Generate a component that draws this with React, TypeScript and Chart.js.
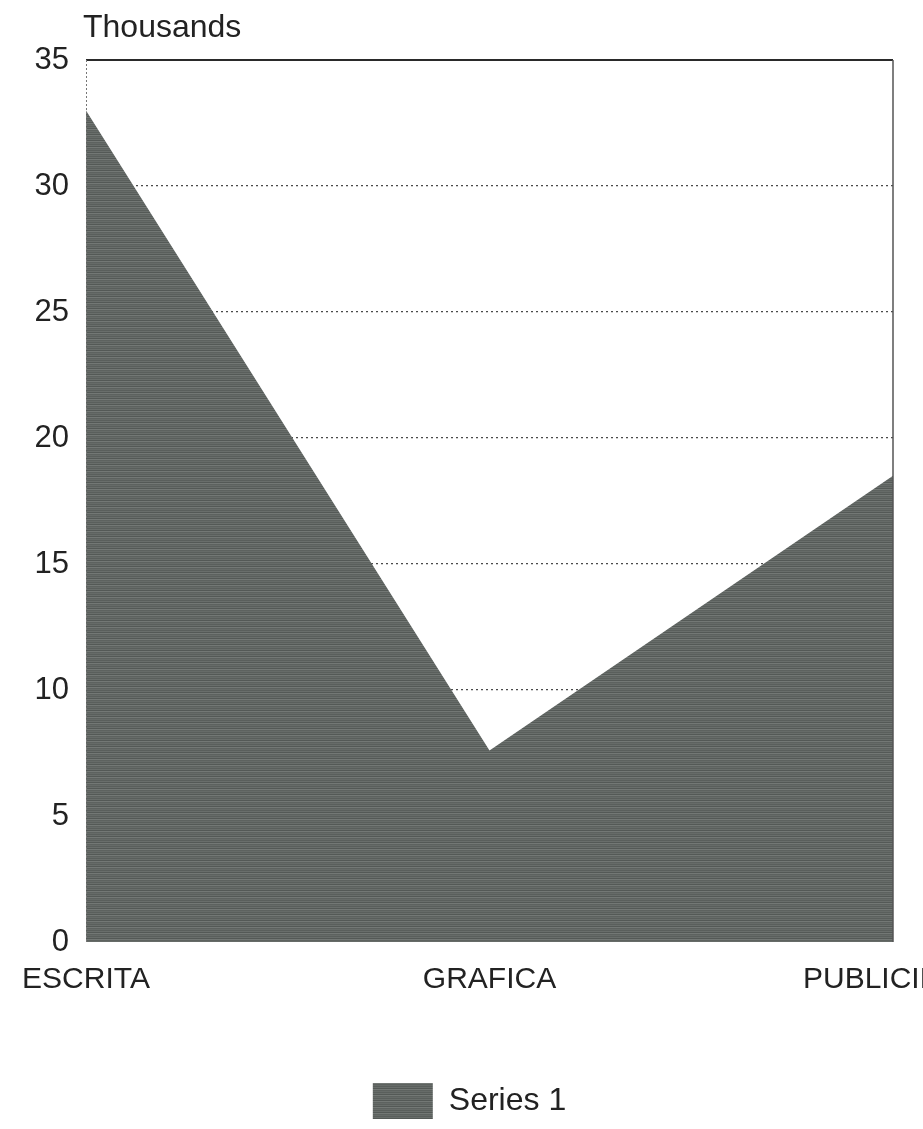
import React, { useEffect, useRef } from "react";
import { Chart, registerables } from "chart.js";

Chart.register(...registerables);

const categories = ["ESCRITA", "GRAFICA", "PUBLICIDAD"];
const series1 = [33.0, 7.6, 18.5];
const yTickValues = [0, 5, 10, 15, 20, 25, 30, 35];
const seriesName = "Series 1";
const unitLabel = "Thousands";

const FONT = "'Liberation Sans', Arial, sans-serif";
const TEXT = "#222222";

function makePattern(): CanvasPattern | string {
  const c = document.createElement("canvas");
  c.width = 8;
  c.height = 6;
  const g = c.getContext("2d");
  if (!g) return "#606562";
  const rows = ["#5a5f5c", "#696e6b", "#545956", "#737875", "#5d625f", "#666b68"];
  rows.forEach((col, i) => {
    g.fillStyle = col;
    g.fillRect(0, i, 8, 1);
  });
  return g.createPattern(c, "repeat") || "#606562";
}

const framePlugin = {
  id: "frame",
  afterLayout(chart: any) {
    const lg = chart.legend;
    if (lg) {
      lg.left = 16;
      lg.right = 923;
    }
  },
  afterDatasetsDraw(chart: any) {
    const { ctx, chartArea } = chart;
    const { left, right, top, bottom } = chartArea;
    ctx.save();
    ctx.strokeStyle = "#2a2a2a";
    ctx.lineWidth = 2;
    ctx.beginPath();
    ctx.moveTo(left, top);
    ctx.lineTo(right, top);
    ctx.stroke();
    ctx.strokeStyle = "#555";
    ctx.lineWidth = 1.5;
    ctx.beginPath();
    ctx.moveTo(right, top);
    ctx.lineTo(right, bottom);
    ctx.stroke();
    ctx.setLineDash([2, 2]);
    ctx.lineWidth = 1;
    ctx.strokeStyle = "#777";
    ctx.beginPath();
    ctx.moveTo(left + 0.5, top);
    ctx.lineTo(left + 0.5, bottom);
    ctx.stroke();
    ctx.restore();

    ctx.save();
    ctx.font = `32px ${FONT}`;
    ctx.fillStyle = TEXT;
    ctx.textBaseline = "alphabetic";
    ctx.textAlign = "left";
    ctx.fillText(unitLabel, left - 3, 37);
    ctx.restore();
  },
};

export default function App() {
  const ref = useRef<HTMLCanvasElement | null>(null);

  useEffect(() => {
    if (!ref.current) return;
    const fill = makePattern();
    const chart = new Chart(ref.current, {
      type: "line",
      data: {
        labels: categories,
        datasets: [
          {
            label: seriesName,
            data: series1,
            fill: "origin",
            backgroundColor: fill as any,
            borderColor: "#5f6461",
            borderWidth: 0,
            pointRadius: 0,
            tension: 0,
          },
        ],
      },
      options: {
        animation: false,
        responsive: false,
        layout: { padding: { left: 0, right: 30, top: 60, bottom: 0 } },
        plugins: {
          title: { display: false },
          tooltip: { enabled: false },
          legend: {
            display: true,
            position: "bottom",
            labels: {
              boxWidth: 60,
              boxHeight: 36,
              color: TEXT,
              font: { family: FONT, size: 32 },
            },
          },
        },
        scales: {
          x: {
            type: "category",
            offset: false,
            grid: { display: false },
            border: { display: false },
            ticks: {
              color: TEXT,
              font: { family: FONT, size: 30 },
              maxRotation: 0,
              minRotation: 0,
              autoSkip: false,
              padding: 12,
            },
            afterFit: (scale: any) => {
              scale.height = 131;
              scale.paddingLeft = 0;
              scale.paddingRight = 0;
            },
          },
          y: {
            min: 0,
            max: 35,
            afterBuildTicks: (scale: any) => {
              scale.ticks = yTickValues.map((v) => ({ value: v }));
            },
            grid: {
              drawTicks: false,
              lineWidth: 1.3,
              color: (ctx: any) =>
                ctx.tick && (ctx.tick.value === 0 || ctx.tick.value === 35)
                  ? "rgba(0,0,0,0)"
                  : "#4a4a4a",
            },
            border: { display: false, dash: [2, 3] },
            ticks: {
              color: TEXT,
              font: { family: FONT, size: 31 },
              padding: 17,
            },
            afterFit: (scale: any) => {
              scale.width = 86;
            },
          },
        },
      },
      plugins: [framePlugin],
    });
    return () => chart.destroy();
  }, []);

  return (
    <div style={{ position: "absolute", left: 0, top: 0, width: 923, height: 1129, background: "#fff" }}>
      <canvas ref={ref} width={923} height={1129} style={{ width: 923, height: 1129, display: "block" }} />
    </div>
  );
}
